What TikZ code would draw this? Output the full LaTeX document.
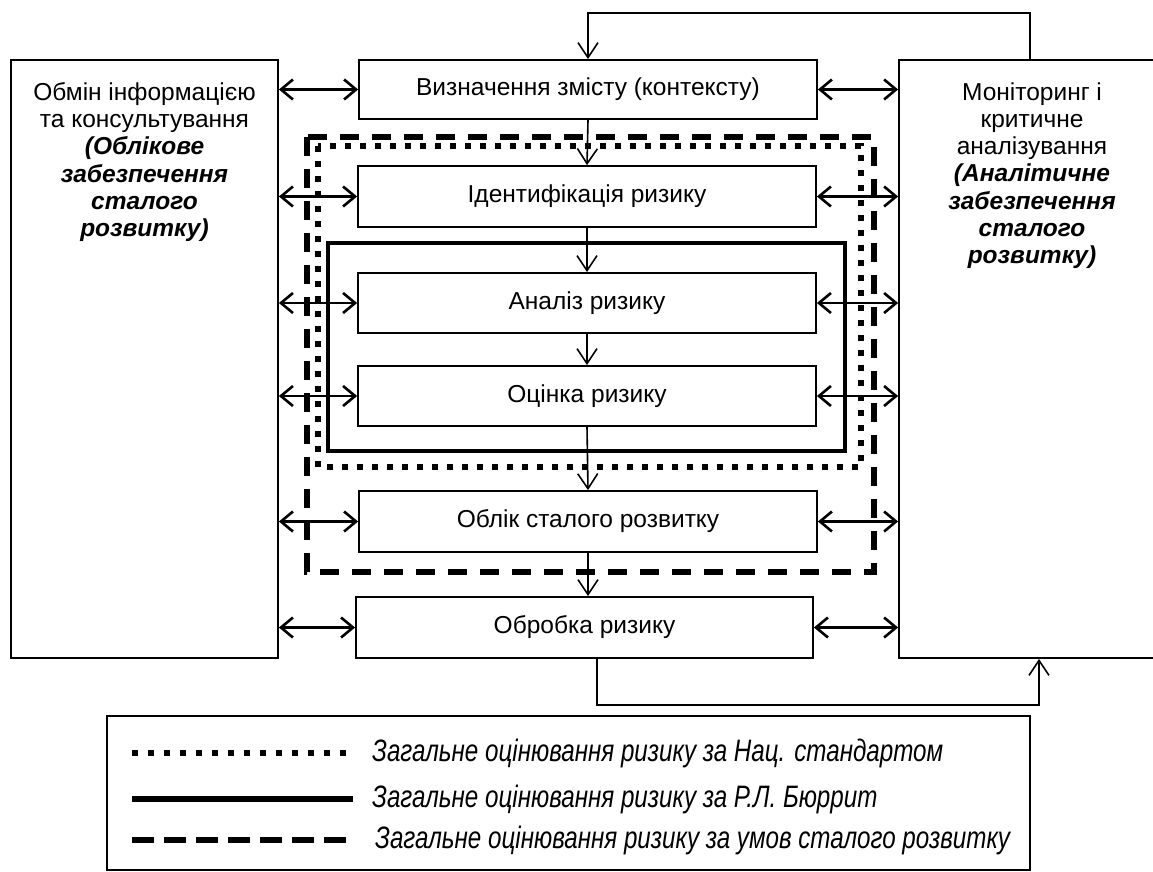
\documentclass[tikz,border=0pt]{standalone}
\usepackage{fontspec}
\setmainfont{Liberation Sans}
\newfontfamily\legendfont[FakeStretch=0.78]{Liberation Sans}
\usetikzlibrary{arrows.meta}

\tikzset{
  stage/.style={draw, line width=1.8pt, minimum width=458pt, minimum height=60pt, inner sep=0pt},
  side/.style={draw, line width=1.8pt, minimum width=267pt, minimum height=598pt, inner sep=0pt},
  sidetext/.style={align=center, anchor=north, inner sep=0pt},
  link/.style={{Straight Barb[length=12pt,width=20pt]}-{Straight Barb[length=12pt,width=20pt]}, line width=2.6pt},
  flow/.style={-{Straight Barb[length=15pt,width=20pt]}, line width=1.6pt},
  natframe/.style={line width=6pt, dash pattern=on 6pt off 9pt},
  burframe/.style={line width=4.5pt},
  sustframe/.style={line width=6.5pt, dash pattern=on 19pt off 13pt},
  legendtext/.style={anchor=west, inner sep=0pt, font=\fontsize{31}{36}\legendfont\itshape}
}

\begin{document}
\begin{tikzpicture}
   [x=1pt, y=-1pt, font=\fontsize{24.5}{27.3}\selectfont]
   \useasboundingbox (0,0) rectangle (1153,872);

   % frames of the three approaches
   \draw[sustframe] (307,137) rectangle (874,572);
   \draw[natframe] (318,146) rectangle (861,467);
   \draw[burframe] (328,243) rectangle (845,451);

   % side blocks
   \node[side] (info) at (144.5,359) {};
   \node[sidetext] (infotext) at (info.north) [yshift=-23pt]
      {Обмін інформацією\\та консультування\\\textbf{\textit{(Облікове}}\\\textbf{\textit{забезпечення}}\\\textbf{\textit{сталого}}\\\textbf{\textit{розвитку)}}};
   \node[side, minimum width=266pt] (mon) at (1032,359) {};
   \node[sidetext] (montext) at (mon.north) [yshift=-23pt]
      {Моніторинг і\\критичне\\аналізування\\\textbf{\textit{(Аналітичне}}\\\textbf{\textit{забезпечення}}\\\textbf{\textit{сталого}}\\\textbf{\textit{розвитку)}}};

   % process stages
   \node[stage, minimum height=59pt] (ctx) at (588,89.5) {Визначення змісту (контексту)};
   \node[stage, minimum height=61pt] (ident) at (587,196.5) {Ідентифікація ризику};
   \node[stage] (anal) at (587,303) {Аналіз ризику};
   \node[stage] (ocin) at (587,396) {Оцінка ризику};
   \node[stage, minimum height=61pt] (oblik) at (588,521.5) {Облік сталого розвитку};
   \node[stage, minimum width=457pt, minimum height=61pt] (obrob) at (584.5,627.5) {Обробка ризику};

   \foreach \s in {ctx,ident,anal,ocin,oblik,obrob} {
      \draw[link] (info.east |- \s.west) -- (\s.west);
      \draw[link] (\s.east) -- (mon.west |- \s.east);
   }

   \draw[flow] (ctx.south) -- (ident.north);
   \draw[flow] (ident.south) -- (anal.north);
   \draw[flow] (anal.south) -- (ocin.north);
   \draw[flow] (ocin.south) -- (oblik.north);
   \draw[flow] (oblik.south) -- (oblik.south |- obrob.north);

   % feedback loops
   \coordinate (topturn) at (1030,13);
   \draw[flow] (topturn |- mon.north) -- (topturn) -| (ctx.north);
   \coordinate (loopL) at (597,705);
   \coordinate (loopR) at (1039,705);
   \draw[flow] (obrob.south -| loopL) -- (loopL) -- (loopR) -- (loopR |- mon.south);

   % legend
   \node[draw, line width=1.8pt, minimum width=923pt, minimum height=154pt, inner sep=0pt] (legend) at (568.5,793) {};
   \draw[natframe, dash pattern=on 6pt off 10pt] (132,753) -- (353,753);
   \draw[burframe, line width=5.5pt] (132,799) -- (353,799);
   \draw[sustframe, line width=6pt, dash pattern=on 22pt off 10pt] (132,840) -- (353,840);
   \node[legendtext] (natlabel) at (372,753) {Загальне оцінювання ризику за Нац. стандартом};
   \node[legendtext] (burlabel) at (372,799) {Загальне оцінювання ризику за Р.Л. Бюррит};
   \node[legendtext] (sustlabel) at (375,840) {Загальне оцінювання ризику за умов сталого розвитку};
\end{tikzpicture}
\end{document}
